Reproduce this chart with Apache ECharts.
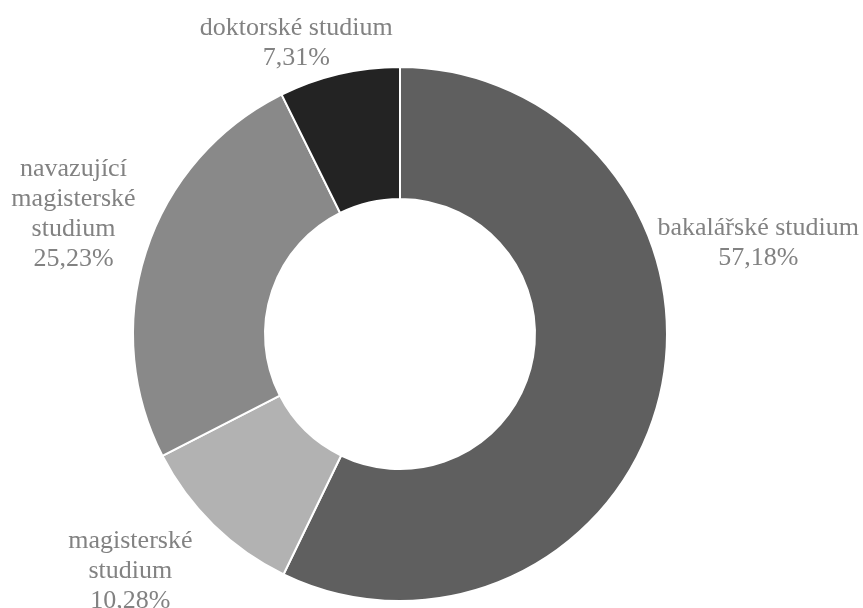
<!DOCTYPE html>
<html>
<head>
<meta charset="utf-8">
<script src="https://cdn.jsdelivr.net/npm/echarts@6/dist/echarts.min.js"></script>
<style>
  html, body { margin: 0; padding: 0; background: #ffffff; }
  #chart { width: 863px; height: 608px; }
</style>
</head>
<body>
<div id="chart"></div>
<script>
// Podíl studentů podle typu studia (v procentech)
const categories = [
  'bakalářské studium',
  'magisterské\nstudium',
  'navazující\nmagisterské\nstudium',
  'doktorské studium'
];
const shares = [57.18, 10.28, 25.23, 7.31];
const sliceColors = ['#5f5f5f', '#b2b2b2', '#898989', '#232323'];

// label offsets from the outer rim of each slice (dx, dy)
const labelShift = [[98, -151], [-83, 46], [-73, -36], [-43, -31]];

const chart = echarts.init(document.getElementById('chart'), null, { renderer: 'canvas' });

chart.setOption({
  animation: false,
  backgroundColor: '#ffffff',
  series: [{
    type: 'pie',
    center: [400, 334],
    radius: [135, 267],
    startAngle: 90,
    clockwise: true,
    avoidLabelOverlap: false,
    data: categories.map((name, i) => ({
      name: name,
      value: shares[i],
      itemStyle: { color: sliceColors[i] }
    })),
    itemStyle: { borderColor: '#ffffff', borderWidth: 2 },
    label: {
      show: true,
      position: 'outside',
      formatter: p => p.name + '\n' + p.value.toFixed(2).replace('.', ',') + '%',
      fontFamily: 'Liberation Serif',
      fontSize: 26,
      lineHeight: 30,
      color: '#828282',
      align: 'center',
      overflow: 'none',
      distanceToLabelLine: 0
    },
    labelLine: { show: false, length: 0, length2: 0 },
    labelLayout: p => ({
      align: 'center',
      verticalAlign: 'middle',
      dx: labelShift[p.dataIndex][0],
      dy: labelShift[p.dataIndex][1]
    }),
    emphasis: { disabled: true }
  }]
});
</script>
</body>
</html>
